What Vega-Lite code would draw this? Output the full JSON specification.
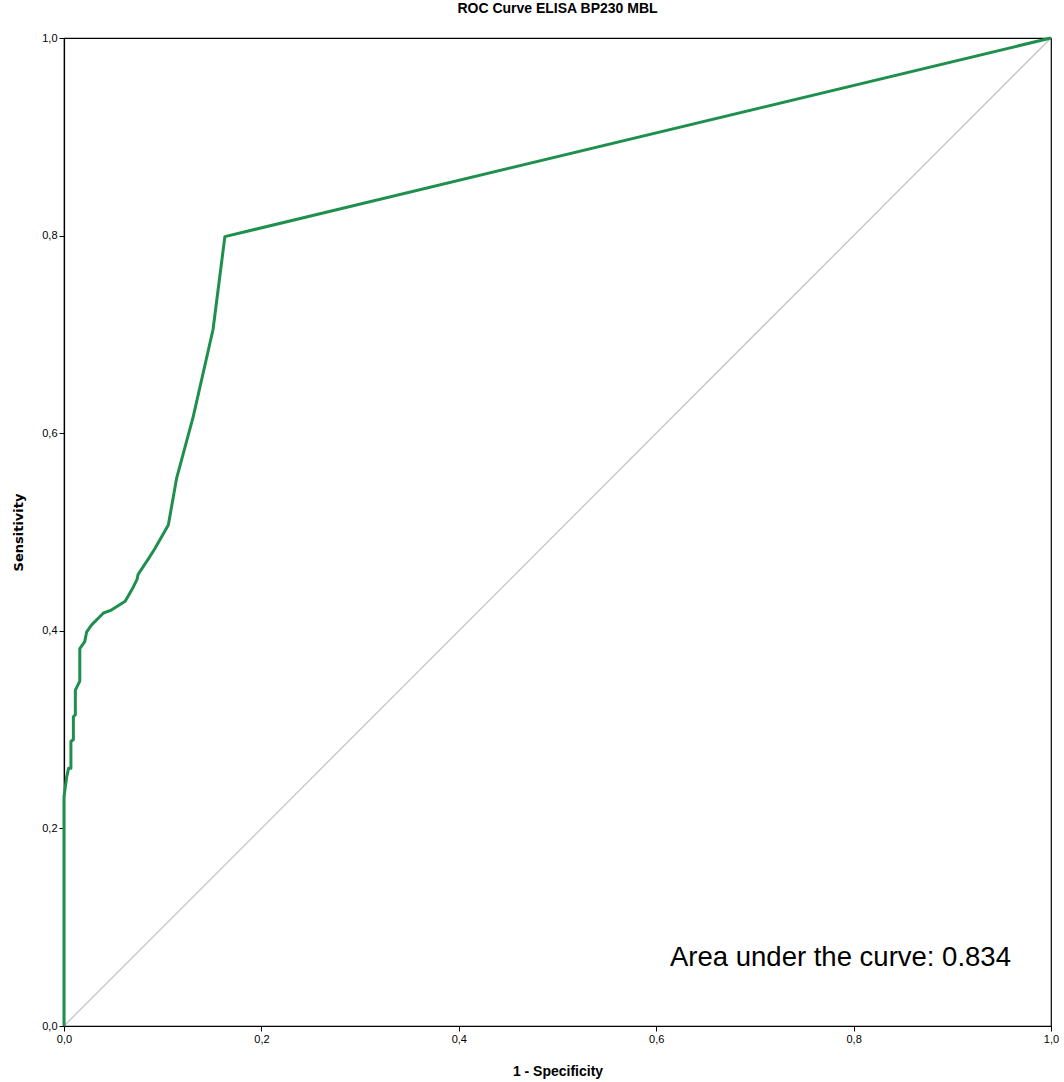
{
  "$schema": "https://vega.github.io/schema/vega-lite/v6.json",
  "width": 987,
  "height": 988,
  "autosize": {"type": "none"},
  "padding": {"left": 64, "top": 38, "right": 13, "bottom": 56},
  "background": "white",
  "title": {
    "text": "ROC Curve ELISA BP230 MBL",
    "font": "Liberation Sans Narrow, Arial Narrow, Liberation Sans",
    "fontSize": 14,
    "fontWeight": "bold",
    "color": "#000000",
    "anchor": "middle",
    "offset": 16
  },
  "config": {
    "view": {"stroke": "#000000", "strokeWidth": 1.2},
    "axis": {
      "grid": false,
      "domainColor": "#000000",
      "domainWidth": 1.2,
      "tickColor": "#000000",
      "tickSize": 5,
      "labelFlush": false,
      "labelFont": "Liberation Sans Narrow, Arial Narrow, Liberation Sans",
      "labelFontSize": 11,
      "labelColor": "#000000",
      "titleFont": "Liberation Sans Narrow, Arial Narrow, Liberation Sans",
      "titleFontSize": 14,
      "titleFontWeight": "bold",
      "titleColor": "#000000"
    }
  },
  "datasets": {
    "roc": [
      {"i": 0, "fpr": 0.0, "tpr": 0.0},
      {"i": 1, "fpr": 0.0, "tpr": 0.232},
      {"i": 2, "fpr": 0.0027, "tpr": 0.252},
      {"i": 3, "fpr": 0.0047, "tpr": 0.261},
      {"i": 4, "fpr": 0.007, "tpr": 0.261},
      {"i": 5, "fpr": 0.007, "tpr": 0.288},
      {"i": 6, "fpr": 0.0095, "tpr": 0.29},
      {"i": 7, "fpr": 0.0095, "tpr": 0.313},
      {"i": 8, "fpr": 0.0115, "tpr": 0.315},
      {"i": 9, "fpr": 0.0115, "tpr": 0.34},
      {"i": 10, "fpr": 0.016, "tpr": 0.349},
      {"i": 11, "fpr": 0.016, "tpr": 0.382},
      {"i": 12, "fpr": 0.021, "tpr": 0.389},
      {"i": 13, "fpr": 0.023, "tpr": 0.399},
      {"i": 14, "fpr": 0.028, "tpr": 0.406},
      {"i": 15, "fpr": 0.04, "tpr": 0.418},
      {"i": 16, "fpr": 0.048, "tpr": 0.421},
      {"i": 17, "fpr": 0.062, "tpr": 0.43},
      {"i": 18, "fpr": 0.069, "tpr": 0.442},
      {"i": 19, "fpr": 0.074, "tpr": 0.452},
      {"i": 20, "fpr": 0.075, "tpr": 0.457},
      {"i": 21, "fpr": 0.085, "tpr": 0.472},
      {"i": 22, "fpr": 0.092, "tpr": 0.483},
      {"i": 23, "fpr": 0.1057, "tpr": 0.507},
      {"i": 24, "fpr": 0.114, "tpr": 0.554},
      {"i": 25, "fpr": 0.131, "tpr": 0.617},
      {"i": 26, "fpr": 0.151, "tpr": 0.705},
      {"i": 27, "fpr": 0.163, "tpr": 0.799},
      {"i": 28, "fpr": 1.0, "tpr": 1.0}
    ],
    "diag": [
      {"fpr": 0.0, "tpr": 0.0},
      {"fpr": 1.0, "tpr": 1.0}
    ],
    "note": [
      {"fpr": 0.614, "tpr": 0.069, "label": "Area under the curve: 0.834"}
    ]
  },
  "layer": [
    {
      "data": {"name": "diag"},
      "mark": {"type": "line", "color": "#c4c4c4", "strokeWidth": 1.3},
      "encoding": {
        "x": {
          "field": "fpr", "type": "quantitative",
          "scale": {"domain": [0, 1], "nice": false, "zero": false},
          "axis": {
            "title": "1 - Specificity",
            "values": [0, 0.2, 0.4, 0.6, 0.8, 1.0],
            "labelExpr": "replace(format(datum.value, '.1f'), '.', ',')",
            "titlePadding": 20
          }
        },
        "y": {
          "field": "tpr", "type": "quantitative",
          "scale": {"domain": [0, 1], "nice": false, "zero": false},
          "axis": {
            "title": "Sensitivity",
            "values": [0, 0.2, 0.4, 0.6, 0.8, 1.0],
            "labelExpr": "replace(format(datum.value, '.1f'), '.', ',')",
            "titlePadding": 16,
            "titleFont": "DejaVu Sans",
            "titleFontSize": 13
          }
        }
      }
    },
    {
      "data": {"name": "roc"},
      "mark": {"type": "line", "color": "#1f8f4e", "strokeWidth": 3, "strokeJoin": "round"},
      "encoding": {
        "x": {"field": "fpr", "type": "quantitative"},
        "y": {"field": "tpr", "type": "quantitative"},
        "order": {"field": "i", "type": "quantitative"}
      }
    },
    {
      "data": {"name": "note"},
      "mark": {"type": "text", "align": "left", "baseline": "middle", "fontSize": 27.5, "font": "Liberation Sans", "color": "#000000"},
      "encoding": {
        "x": {"field": "fpr", "type": "quantitative"},
        "y": {"field": "tpr", "type": "quantitative"},
        "text": {"field": "label", "type": "nominal"}
      }
    }
  ]
}
